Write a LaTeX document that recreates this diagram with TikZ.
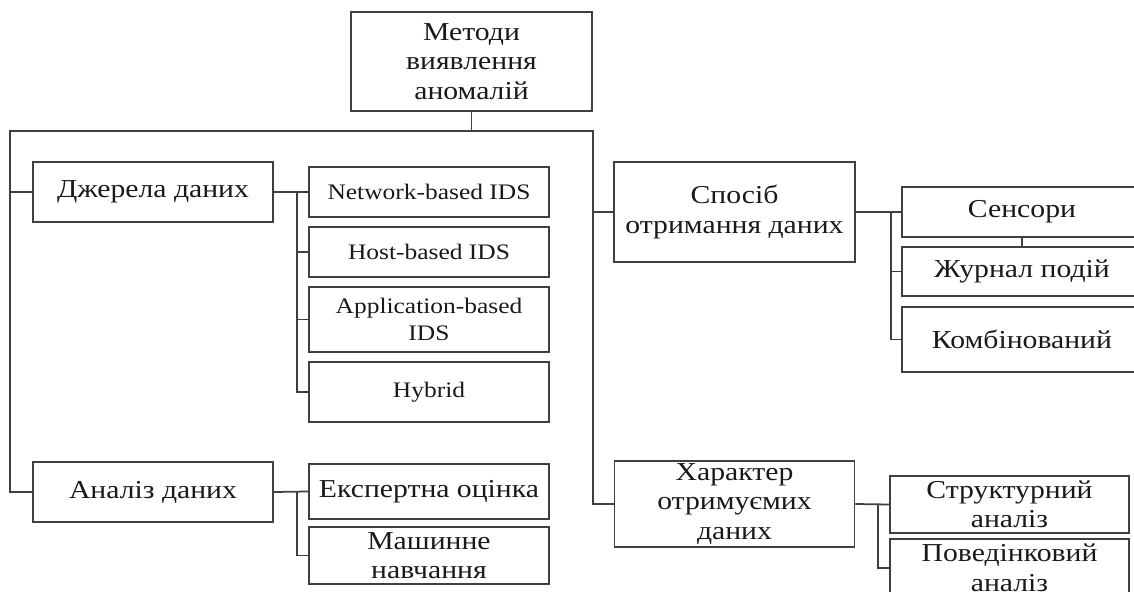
\documentclass[tikz,border=0pt]{standalone}
\usepackage{fontspec}
\setmainfont[FakeStretch=1.15]{Liberation Serif}
\usepackage{tikz}
\usetikzlibrary{positioning}

\begin{document}
\begin{tikzpicture}[x=0.02cm,y=-0.02cm,line width=1pt]
              \tikzstyle{every node} = [draw=black!75, rectangle, align=center, inner sep=0pt, minimum width=4.8cm, text=black!90];
              \tikzstyle{blok} = [font=\fontsize{14.7}{16.8}\selectfont];
              \tikzstyle{blokEn} = [font=\fontsize{12.6}{15.6}\selectfont];
              \tikzstyle{lin} = [draw=black!75];
              \useasboundingbox (0,0) rectangle (1134,592);
              \clip (0,0) rectangle (1134,592);
              % root
              \node[blok, minimum width=4.82cm, minimum height=1.98cm] (metody) at (471.5,61.5) {Методи\\виявлення\\аномалій};
              % left column
              \node[blok, minimum height=1.2cm] (dzherela) at (153,192) {Джерела даних};
              \node[blok, minimum height=1.2cm] (analiz) at (153,492) {Аналіз даних};
              \node[blokEn, minimum height=1.0cm] (nids) at (429,192) {Network-based IDS};
              \node[blokEn, minimum height=1.0cm] (hids) at (429,252) {Host-based IDS};
              \node[blokEn, minimum height=1.3cm] (aids) at (429,319.5) {Application-based\\IDS};
              \node[blokEn, minimum height=1.2cm] (hybrid) at (429,392) {Hybrid};
              \node[blok, minimum height=1.1cm] (ekspert) at (429,491.5) {Експертна оцінка};
              \node[blok, minimum height=1.14cm] (mashyn) at (429,555.5) {Машинне\\навчання};
              % right column
              \node[blok, minimum width=4.82cm, minimum height=2.0cm] (sposib) at (734.5,212) {Спосіб\\отримання даних};
              \node[blok, minimum height=1.72cm] (kharakter) at (734.5,504) {Характер\\отримуємих\\даних};
              \node[blok, minimum height=1.0cm] (sensory) at (1022,212) {Сенсори};
              \node[blok, minimum height=0.98cm] (zhurnal) at (1022,271.5) {Журнал подій};
              \node[blok, minimum height=1.3cm] (kombin) at (1022,339.5) {Комбінований};
              \node[blok, minimum width=4.78cm, minimum height=1.14cm] (struktur) at (1009.5,504.5) {Структурний\\аналіз};
              \node[blok, minimum width=4.78cm, minimum height=1.16cm] (povedin) at (1009.5,568) {Поведінковий\\аналіз};
              % trunk
              \coordinate (lbus) at (10,131);
              \coordinate (rbus) at (593,131);
              \draw[lin] (metody.south) -- (metody.south |- lbus);
              \draw[lin] (dzherela.west) -- (dzherela.west -| lbus);
              \draw[lin] (analiz.west) -| (lbus) -- (rbus) |- (kharakter.west);
              \draw[lin] (sposib.west) -- (sposib.west -| rbus);
              % branches
              \coordinate (b1) at (297,192);
              \coordinate (b2) at (297,491.5);
              \coordinate (b3) at (891,212);
              \coordinate (b4) at (878,504.5);
              \draw[lin] (dzherela.east) -- (nids.west);
              \draw[lin] (analiz.east) -- (ekspert.west);
              \draw[lin] (sposib.east) -- (sensory.west);
              \draw[lin] (kharakter.east) -- (struktur.west);
              \draw[lin] (b1) |- (hybrid.west);
              \draw[lin] (b2) |- (mashyn.west);
              \draw[lin] (b3) |- (kombin.west);
              \draw[lin] (b4) |- (povedin.west);
              \foreach \k in {hids,aids}{
                \draw[lin] (b1 |- \k.west) -- (\k.west);
              }
              \draw[lin] (b3 |- zhurnal.west) -- (zhurnal.west);
              \draw[lin] (sensory.south) -- (zhurnal.north);
            \end{tikzpicture}
\end{document}
